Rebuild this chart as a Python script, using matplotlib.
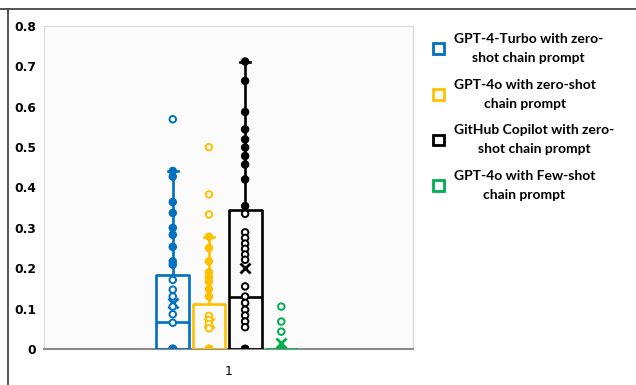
import matplotlib
matplotlib.use("Agg")
import matplotlib.pyplot as plt
from matplotlib.patches import Patch
from matplotlib.lines import Line2D

# ---------------- data ----------------
series_names = [
    "GPT-4-Turbo with zero-\nshot chain prompt",
    "GPT-4o with zero-shot\nchain prompt",
    "GitHub Copilot with zero-\nshot chain prompt",
    "GPT-4o with Few-shot\nchain prompt",
]
category_labels = ["1"]

q1_vals = [0.0, 0.0, 0.0, 0.0]
median_vals = [0.068, 0.0, 0.130, 0.0]
q3_vals = [0.184, 0.112, 0.345, 0.0]
whisker_hi_vals = [0.441, 0.278, 0.712, 0.0]
mean_vals = [0.114, 0.065, 0.201, 0.014]

gpt4turbo_points = [0.569, 0.441, 0.427, 0.364, 0.337, 0.300, 0.283, 0.253, 0.217, 0.209,
                    0.171, 0.147, 0.130, 0.105, 0.086, 0.065, 0, 0, 0, 0, 0, 0]
gpt4o_points = [0.500, 0.383, 0.333, 0.278, 0.250, 0.217, 0.190, 0.178, 0.167, 0.148, 0.130,
                0.082, 0.072, 0.062, 0.051, 0, 0, 0, 0, 0, 0]
copilot_points = [0.712, 0.664, 0.587, 0.544, 0.519, 0.499, 0.478, 0.457, 0.420, 0.354,
                  0.335, 0.289, 0.275, 0.261, 0.248, 0.234, 0.221, 0.155, 0.130,
                  0.114, 0.097, 0.083, 0.068, 0.054, 0, 0, 0]
fewshot_points = [0.105, 0.068, 0.043, 0, 0, 0, 0, 0, 0, 0, 0]
all_points = [gpt4turbo_points, gpt4o_points, copilot_points, fewshot_points]

colors = ["#0070C0", "#FFC000", "#000000", "#00B050"]

y_ticks = [0, 0.1, 0.2, 0.3, 0.4, 0.5, 0.6, 0.7, 0.8]
y_ticklabels = ["0", "0.1", "0.2", "0.3", "0.4", "0.5", "0.6", "0.7", "0.8"]

# ---------------- layout ----------------
W, H = 636, 385
fig = plt.figure(figsize=(W / 100, H / 100), dpi=100)
ax_l, ax_r, ax_t, ax_b = 44, 413, 26, 349
ax = fig.add_axes([ax_l / W, 1 - ax_b / H, (ax_r - ax_l) / W, (ax_b - ax_t) / H])
ax.set_facecolor("#fbfbfb")

cat_center = 0.496
step = 0.098
box_w = 0.089
positions = [cat_center + (i - 1.5) * step for i in range(4)]

for i, c in enumerate(colors):
    stats = [dict(med=median_vals[i], q1=q1_vals[i], q3=q3_vals[i],
                  whislo=q1_vals[i], whishi=whisker_hi_vals[i],
                  mean=mean_vals[i], fliers=[])]
    lw = 1.9
    art = ax.bxp(stats, positions=[positions[i]], widths=box_w, showmeans=True,
                 capwidths=0.028, manage_ticks=False,
                 boxprops=dict(color=c, linewidth=lw),
                 medianprops=dict(color=c, linewidth=lw),
                 whiskerprops=dict(color=c, linewidth=lw),
                 capprops=dict(color=c, linewidth=lw),
                 meanprops=dict(marker="x", markeredgecolor=c, markersize=6.5,
                                markeredgewidth=2.0, linestyle="none"),
                 zorder=3)
    # lower cap / whisker not shown (at zero)
    art["caps"][0].set_visible(False)
    art["whiskers"][0].set_visible(False)
    if whisker_hi_vals[i] <= q3_vals[i]:
        art["caps"][1].set_visible(False)
        art["whiskers"][1].set_visible(False)
    if c == "#00B050":
        for b in art["boxes"]:
            b.set_color("#6fd39a")
    pts = all_points[i]
    fcs = [c if (q3_vals[i] < v <= whisker_hi_vals[i]) or v == 0 else "white" for v in pts]
    ax.scatter([positions[i]] * len(pts), pts, s=22, facecolors=fcs, edgecolors=c,
               linewidths=1.4, zorder=4)

ax.set_xlim(0, 1)
ax.set_ylim(0, 0.8)
ax.set_yticks(y_ticks)
ax.set_yticklabels(y_ticklabels, fontsize=8.8, fontweight="bold", family="DejaVu Sans")
ax.set_xticks([0.5])
ax.set_xticklabels(category_labels, fontsize=9, family="DejaVu Sans")
ax.tick_params(axis="y", length=0, pad=5.5)
ax.tick_params(axis="x", length=0, pad=11.5)
for s in ["top", "left", "right"]:
    ax.spines[s].set_color("#d9d9d9")
    ax.spines[s].set_linewidth(0.8)
ax.spines["bottom"].set_color("#8c8c8c")
ax.spines["bottom"].set_linewidth(1.5)

# outer chart border (cropped: only top and left visible)
fig.add_artist(Line2D([0, 1], [1 - 9 / H, 1 - 9 / H], transform=fig.transFigure,
                      color="#3a3a3a", linewidth=1.2))
fig.add_artist(Line2D([7.5 / W, 7.5 / W], [0, 1 - 9 / H], transform=fig.transFigure,
                      color="#3a3a3a", linewidth=1.2))

# legend
handles = [Patch(facecolor="white", edgecolor=c, linewidth=2.0) for c in colors]
leg = fig.legend(handles, series_names, loc="upper left",
                 bbox_to_anchor=(433 / W, 1 - 33 / H), frameon=False,
                 prop=dict(family="Lato", weight="bold", size=10),
                 handlelength=0.8, handleheight=0.8, handletextpad=0.7,
                 labelspacing=1.05, borderpad=0, borderaxespad=0)
for t in leg.get_texts():
    t.set_multialignment("center")
    t.set_linespacing(1.7)

fig.savefig("out.png", dpi=100)
